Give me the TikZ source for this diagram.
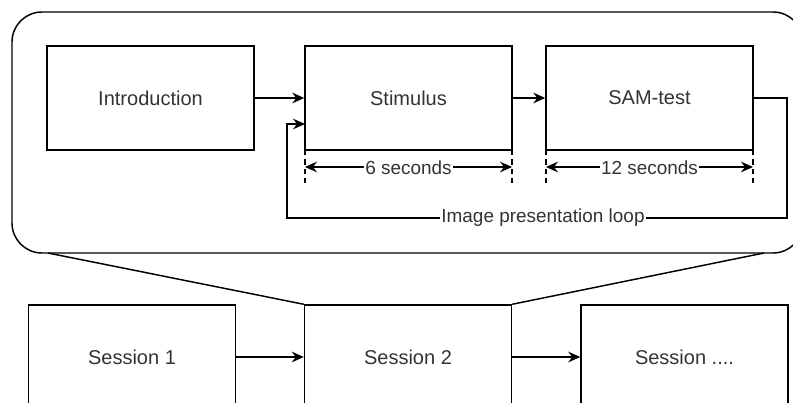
\documentclass[tikz,border=0pt]{standalone}
\usepackage{fontspec}
\setmainfont{Liberation Sans}
\usetikzlibrary{arrows.meta}
\begin{document}
\begin{tikzpicture}[x=0.75pt,y=-0.75pt,
  line width=1.1pt,
  box/.style={draw, minimum width=155.25pt, minimum height=78pt, inner sep=0pt,
    font=\fontsize{15}{18}\selectfont, text=black!80},
  flow/.style={-{Stealth[length=9pt,width=8pt,inset=3pt]}},
  dim/.style={{Stealth[length=9pt,width=8pt,inset=3pt]}-{Stealth[length=9pt,width=8pt,inset=3pt]}},
  tick/.style={dashed, dash pattern=on 4pt off 3pt, line width=0.8pt},
  lbl/.style={fill=white, inner sep=1pt, font=\fontsize{14.2}{17}\selectfont, text=black!80}]
  \useasboundingbox (0,0) rectangle (793,403);
  \clip (0,0) rectangle (793,403);

  % session container
  \draw[rounded corners=22.5pt] (12,12) rectangle (803,253);

  % steps inside a session
  \node[box] (intro) at (150.5,98) {Introduction};
  \node[box] (stim)  at (408.5,98) {Stimulus};
  \node[box] (sam)   at (649.5,98) {SAM-test};

  % sessions
  \node[box] (s1) at (132,357)   {Session 1};
  \node[box] (s2) at (408,357)   {Session 2};
  \node[box] (s3) at (684.5,357) {Session ....};

  % zoom lines from container to session 2
  \coordinate (zl) at (48,253);
  \coordinate (zr) at (764,253);
  \draw (zl) -- (s2.north west);
  \draw (zr) -- (s2.north east);

  % flow arrows
  \draw[flow] (intro) -- (stim);
  \draw[flow] (stim) -- (sam);
  \draw[flow] (s1) -- (s2);
  \draw[flow] (s2) -- (s3);

  % image presentation loop
  \coordinate (l1) at (787,98);
  \coordinate (l2) at (787,218);
  \coordinate (l3) at (287,218);
  \coordinate (l4) at (287,124);
  \coordinate (lin) at (305,124);
  \draw[flow] (sam.east) -- (l1) -- (l2) -- (l3) -- (l4) -- (lin);
  \node[lbl] (looplbl) at (543,218) {Image presentation loop};

  % duration markers
  \coordinate (t1a) at (305,150); \coordinate (t1b) at (305,185);
  \coordinate (t2a) at (512,150); \coordinate (t2b) at (512,185);
  \coordinate (t3a) at (546,150); \coordinate (t3b) at (546,185);
  \coordinate (t4a) at (753,150); \coordinate (t4b) at (753,185);
  \draw[tick] (t1a) -- (t1b);
  \draw[tick] (t2a) -- (t2b);
  \draw[tick] (t3a) -- (t3b);
  \draw[tick] (t4a) -- (t4b);
  \coordinate (d1a) at (305,167); \coordinate (d1b) at (512,167);
  \coordinate (d2a) at (546,167); \coordinate (d2b) at (753,167);
  \draw[dim] (d1a) -- (d1b);
  \draw[dim] (d2a) -- (d2b);
  \node[lbl] (six) at (408.5,168) {6 seconds};
  \node[lbl] (twelve) at (649.5,168) {12 seconds};
\end{tikzpicture}
\end{document}
